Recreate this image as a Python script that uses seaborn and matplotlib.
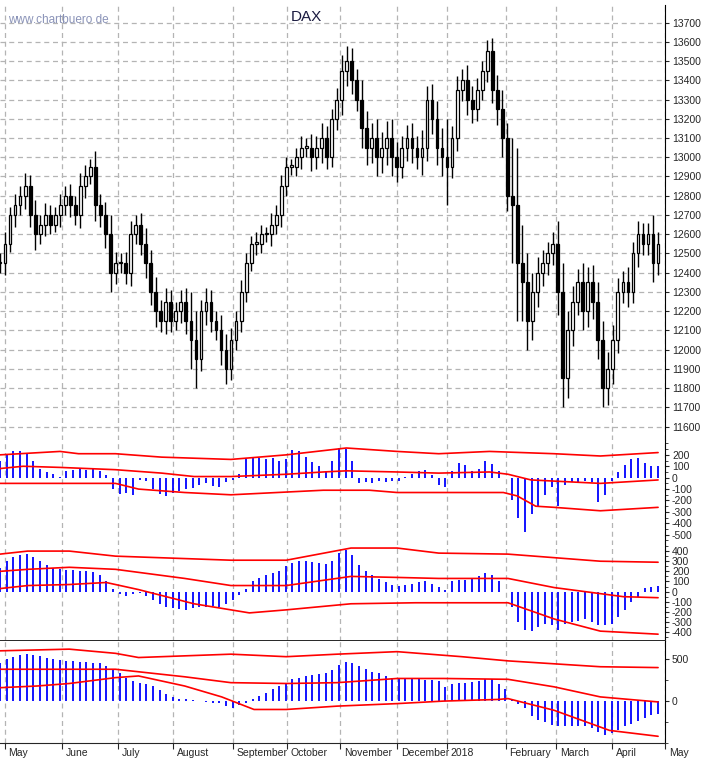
import numpy as np
import pandas as pd
import matplotlib
matplotlib.use("Agg")
import matplotlib.pyplot as plt
import matplotlib.transforms as mtransforms
from matplotlib.ticker import MultipleLocator
import seaborn as sns

# --- data (x positions in chart units, 0..1440 = late April 2017 .. May 2018) ---
months = ["May", "June", "July", "August", "September", "October", "November",
          "December", "2018", "February", "March", "April", "May"]
month_pos = [10, 135, 255, 375, 505, 622, 737, 860, 968, 1095, 1205, 1325, 1440]

closes = [12450, 12550, 12700, 12750, 12800, 12850, 12700, 12600, 12650, 12700,
          12650, 12700, 12750, 12800, 12750, 12700, 12850, 12900, 12950, 12750,
          12700, 12600, 12400, 12450, 12450, 12400, 12600, 12650, 12550, 12450,
          12300, 12200, 12150, 12250, 12150, 12200, 12250, 12150, 12050, 11950,
          12200, 12250, 12150, 12100, 12000, 11900, 12050, 12150, 12300, 12450,
          12550, 12550, 12600, 12600, 12650, 12700, 12850, 12950, 12950, 13000,
          13050, 13050, 13000, 13050, 13100, 13000, 13200, 13300, 13450, 13500,
          13400, 13300, 13150, 13050, 13100, 13000, 13050, 13100, 13000, 12950,
          13050, 13100, 13050, 13000, 13050, 13300, 13200, 13050, 13000, 12950,
          13100, 13350, 13400, 13300, 13250, 13350, 13450, 13550, 13350, 13250,
          13100, 12800, 12750, 12450, 12350, 12150, 12300, 12400, 12450, 12500,
          12550, 12300, 11850, 12100, 12250, 12350, 12200, 12350, 12250, 12050,
          11800, 11900, 12050, 12300, 12350, 12300, 12500, 12600, 12550, 12600,
          12450, 12550]
wick = [50, 60, 40, 60, 50, 70, 60, 80, 50, 60,
        50, 40, 60, 50, 60, 50, 70, 60, 40, 80,
        60, 70, 100, 60, 50, 60, 70, 50, 60, 80,
        70, 80, 60, 70, 60, 50, 60, 70, 150, 150,
        60, 70, 60, 50, 80, 80, 60, 50, 60, 50,
        40, 60, 50, 40, 60, 50, 60, 50, 40, 50,
        60, 50, 70, 60, 80, 60, 50, 60, 80, 80,
        70, 60, 100, 90, 80, 100, 80, 90, 100, 80,
        60, 70, 80, 60, 90, 70, 80, 90, 100, 200,
        60, 70, 60, 80, 70, 60, 50, 60, 70, 80,
        100, 80, 300, 300, 200, 150, 100, 80, 70, 60,
        60, 120, 150, 100, 80, 70, 100, 80, 90, 100,
        100, 90, 80, 70, 60, 80, 60, 70, 60, 60,
        100, 60]

osc1 = [150, 200, 230, 230, 210, 150, 80, 50, 30, 10,
        60, 70, 80, 70, 80, 60, 20, -100, -140, -130,
        -150, -20, -30, -100, -140, -160, -130, -120, -100, -90,
        -60, -50, -70, -80, -40, -20, 30, 160, 170, 170,
        160, 170, 150, 160, 240, 230, 180, 140, 100, 60,
        150, 260, 250, 150, -50, -40, -50, -30, -40, -30,
        -30, 10, 30, 60, 70, 20, -60, -80, 60, 130,
        110, 60, 80, 150, 120, 60, 0, -200, -350, -480,
        -320, -250, -150, -80, -250, -60, -40, -50, -30, -40,
        -210, -150, -30, 50, 110, 160, 170, 130, 100, 100]
osc1_kx = [0, 130, 170, 250, 350, 500, 620, 750, 860, 950, 1060, 1200, 1300, 1425]
osc1_up = [200, 230, 210, 210, 180, 160, 200, 260, 230, 210, 230, 210, 190, 220]
osc1_mx = [0, 50, 130, 250, 350, 420, 500, 620, 700, 750, 860, 950, 1060, 1100, 1150, 1200, 1300, 1425]
osc1_mid = [80, 100, 90, 70, 40, 10, 10, 30, 50, 60, 50, 40, 50, 30, -20, -30, -50, -20]
osc1_lx = [0, 130, 250, 300, 400, 500, 600, 700, 800, 860, 960, 1090, 1120, 1160, 1200, 1300, 1425]
osc1_lo = [-50, -50, -50, -100, -130, -150, -130, -110, -110, -130, -130, -130, -160, -250, -260, -290, -260]

osc2 = [230, 300, 340, 360, 370, 340, 300, 260, 230, 220,
        210, 210, 200, 200, 190, 160, 100, 30, -20, -40,
        -20, -10, -40, -80, -120, -150, -160, -170, -180, -160,
        -150, -150, -140, -150, -120, -80, -30, 30, 100, 130,
        160, 180, 200, 250, 280, 300, 300, 290, 280, 270,
        300, 380, 410, 360, 260, 200, 160, 120, 90, 70,
        60, 70, 80, 90, 100, 80, 50, 20, 100, 110,
        110, 120, 150, 180, 160, 100, 0, -150, -300, -380,
        -390, -350, -320, -330, -380, -320, -300, -290, -270, -300,
        -330, -330, -320, -250, -180, -100, -50, 40, 50, 60]
osc2_kx = [0, 60, 150, 250, 500, 620, 760, 860, 950, 1100, 1300, 1425]
osc2_up = [370, 400, 400, 350, 310, 310, 430, 430, 380, 370, 300, 290]
osc2_mx = [0, 60, 150, 250, 300, 400, 500, 620, 760, 860, 950, 1100, 1200, 1300, 1350, 1425]
osc2_mid = [200, 220, 240, 220, 190, 130, 60, 60, 150, 140, 130, 130, 40, -20, -50, -60]
osc2_lx = [0, 60, 150, 230, 300, 420, 540, 620, 760, 900, 1100, 1200, 1300, 1425]
osc2_lo = [30, 60, 70, 90, 20, -120, -210, -180, -120, -110, -110, -270, -390, -420]

osc3 = [450, 500, 530, 550, 560, 550, 540, 520, 500, 490,
        480, 480, 470, 470, 460, 460, 420, 380, 330, 280,
        240, 220, 200, 180, 130, 80, 50, 30, 20, 10,
        0, -10, -20, -20, -60, -80, -50, -20, 20, 60,
        100, 140, 180, 220, 260, 280, 300, 310, 320, 340,
        370, 430, 470, 460, 420, 380, 350, 330, 300, 280,
        270, 270, 260, 260, 250, 250, 240, 170, 200, 210,
        220, 230, 240, 260, 260, 200, 150, 20, -40, -80,
        -180, -230, -250, -280, -300, -300, -300, -300, -300, -320,
        -370, -400, -380, -340, -300, -270, -240, -200, -170, -150]
osc3_kx = [0, 150, 250, 300, 500, 620, 730, 860, 1000, 1100, 1300, 1425]
osc3_up = [600, 620, 570, 520, 560, 530, 560, 590, 530, 480, 410, 400]
osc3_mx = [0, 100, 250, 300, 400, 500, 620, 730, 860, 960, 1100, 1200, 1300, 1425]
osc3_mid = [380, 380, 380, 350, 290, 220, 210, 220, 270, 270, 260, 170, 50, -10]
osc3_lx = [0, 80, 150, 250, 300, 400, 480, 550, 620, 730, 860, 960, 1080, 1100, 1200, 1320, 1425]
osc3_lo = [160, 180, 210, 280, 300, 180, 50, -100, -100, -60, -30, 0, 20, 30, -110, -350, -420]

# --- figure ---
sns.set_style("white")
plt.rcParams["font.family"] = ["Liberation Sans", "DejaVu Sans"]
fig = plt.figure(figsize=(7.23, 7.58), dpi=100)
L, W = 0.0, 665 / 723
ax0 = fig.add_axes([L, 0.4195, W, 0.5735])
ax1 = fig.add_axes([L, 0.281, W, 0.1385])
ax2 = fig.add_axes([L, 0.154, W, 0.127])
ax3 = fig.add_axes([L, 0.0198, W, 0.1342])
axes = [ax0, ax1, ax2, ax3]

for ax in axes:
    ax.set_xlim(0, 1440)
    for s in ["left", "top", "bottom"]:
        ax.spines[s].set_visible(False)
    ax.spines["right"].set_color("black")
    ax.yaxis.tick_right()
    ax.tick_params(axis="y", direction="out", length=3, labelsize=7.5, pad=2)
    ax.tick_params(axis="y", which="minor", direction="out", length=2)
    ax.set_xticks([])
    for mp in month_pos:
        ax.axvline(mp, color="#b4b4b4", lw=0.9, ls=(0, (4, 3)), zorder=0)

# price candles
n = len(closes)
cx = np.linspace(0, 1425, n)
opens = [closes[0]] + closes[:-1]
for x, o, c, w in zip(cx, opens, closes, wick):
    hi, lo = max(o, c) + w, min(o, c) - w
    ax0.vlines(x, lo, hi, color="black", lw=1.0, zorder=2)
    up = c >= o
    ax0.bar(x, max(abs(c - o), 8), bottom=min(o, c), width=6,
            facecolor="white" if up else "black", edgecolor="black", lw=0.9, zorder=3)
ax0.set_ylim(11530, 13790)
ax0.set_yticks(range(11600, 13800, 100))
for yv in range(11600, 13800, 100):
    ax0.axhline(yv, color="#b4b4b4", lw=0.9, ls=(0, (4, 3)), zorder=0)
ax0.text(0.46, 0.965, "DAX", transform=ax0.transAxes, fontsize=11, color="#1a1a40", ha="center")
ax0.text(0.012, 0.96, "www.chartbuero.de", transform=ax0.transAxes, fontsize=8.5, color="#8a93b8")

def osc_panel(ax, vals, bands, ylim, ticks):
    hx = np.linspace(0, 1425, len(vals))
    ax.vlines(hx, 0, vals, color="#0000ff", lw=1.3, zorder=2)
    for kx, kv in bands:
        df = pd.DataFrame({"x": kx, "y": kv})
        sns.lineplot(data=df, x="x", y="y", ax=ax, color="#ff0000", lw=1.2, zorder=3)
    ax.set_ylim(*ylim)
    ax.set_yticks(ticks)
    ax.set_yticklabels([str(t) for t in ticks])
    ax.set_xlabel("")
    ax.set_ylabel("")

osc_panel(ax1, osc1, [(osc1_kx, osc1_up), (osc1_mx, osc1_mid), (osc1_lx, osc1_lo)],
          (-590, 330), list(range(200, -600, -100)))
osc_panel(ax2, osc2, [(osc2_kx, osc2_up), (osc2_mx, osc2_mid), (osc2_lx, osc2_lo)],
          (-490, 460), list(range(400, -500, -100)))
osc_panel(ax3, osc3, [(osc3_kx, osc3_up), (osc3_mx, osc3_mid), (osc3_lx, osc3_lo)],
          (-500, 714), [500, 0])
ax1.yaxis.set_minor_locator(MultipleLocator(50))
ax2.yaxis.set_minor_locator(MultipleLocator(50))
ax3.yaxis.set_minor_locator(MultipleLocator(250))
ax2.spines["bottom"].set_visible(True)
ax2.spines["bottom"].set_linewidth(1.4)
ax3.spines["bottom"].set_visible(True)

# month labels
ax3.set_xticks(month_pos)
ax3.set_xticklabels([])
ax3.tick_params(axis="x", direction="out", length=4, bottom=True)
trans = mtransforms.blended_transform_factory(ax3.transData, ax3.transAxes)
for mp, lab in zip(month_pos, months):
    ax3.text(mp + 8, -0.05, lab, transform=trans, fontsize=7.5, ha="left", va="top", clip_on=False)

fig.savefig("out.png", dpi=100)
